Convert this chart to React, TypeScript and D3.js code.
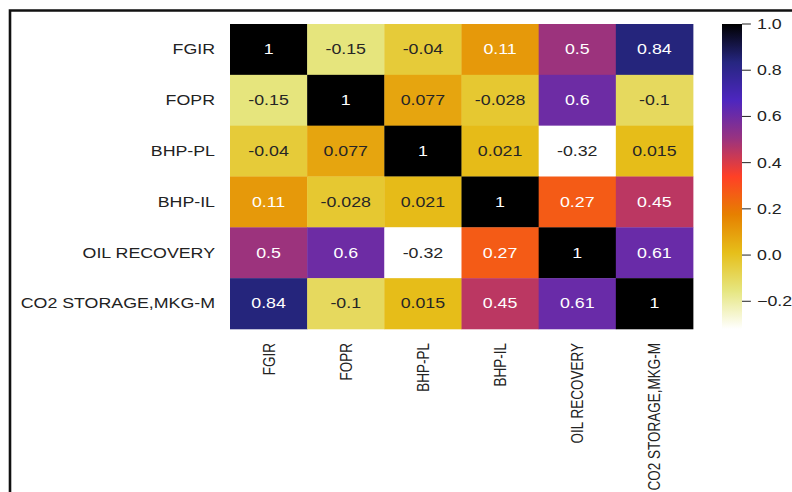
import React from "react";
import * as d3 from "d3";

// variable names, same order on both axes
const labels = ["FGIR", "FOPR", "BHP-PL", "BHP-IL", "OIL RECOVERY", "CO2 STORAGE,MKG-M"];

// correlation matrix rows
const rowFGIR = [1, -0.15, -0.04, 0.11, 0.5, 0.84];
const rowFOPR = [-0.15, 1, 0.077, -0.028, 0.6, -0.1];
const rowBHPPL = [-0.04, 0.077, 1, 0.021, -0.32, 0.015];
const rowBHPIL = [0.11, -0.028, 0.021, 1, 0.27, 0.45];
const rowOil = [0.5, 0.6, -0.32, 0.27, 1, 0.61];
const rowCO2 = [0.84, -0.1, 0.015, 0.45, 0.61, 1];
const matrix = [rowFGIR, rowFOPR, rowBHPPL, rowBHPIL, rowOil, rowCO2];

const colorbarTicks = [-0.2, 0, 0.2, 0.4, 0.6, 0.8, 1.0];

// CMRmap (reversed below)
const cmrStops = [0, 0.125, 0.25, 0.375, 0.5, 0.625, 0.75, 0.875, 1];
const cmrColors = [
  "rgb(0,0,0)",
  "rgb(38,38,128)",
  "rgb(77,38,191)",
  "rgb(153,51,128)",
  "rgb(255,64,38)",
  "rgb(230,128,0)",
  "rgb(230,191,26)",
  "rgb(230,230,128)",
  "rgb(255,255,255)",
];

const W = 792;
const H = 492;
const SX = 1.27; // the picture is stretched sideways
const font = "'Liberation Sans', Arial, Helvetica, sans-serif";

function luminance(c: string) {
  const { r, g, b } = d3.rgb(c);
  const lin = (v: number) => {
    const s = v / 255;
    return s <= 0.03928 ? s / 12.92 : Math.pow((s + 0.055) / 1.055, 2.4);
  };
  return 0.2126 * lin(r) + 0.7152 * lin(g) + 0.0722 * lin(b);
}

export default function App() {
  const vmin = d3.min(matrix.flat()) as number;
  const vmax = d3.max(matrix.flat()) as number;

  const color = d3
    .scaleLinear<string>()
    .domain(cmrStops.map((t) => vmax - t * (vmax - vmin)))
    .range(cmrColors)
    .interpolate(d3.interpolateRgb);

  const top = 24;
  const bottom = 329;
  const x = d3.scaleBand().domain(labels).range([230 / SX, 693 / SX]);
  const y = d3.scaleBand().domain(labels).range([top, bottom]);

  const cbX = 722 / SX;
  const cbW = 20 / SX;
  const cbY = d3.scaleLinear().domain([vmin, vmax]).range([bottom, top]);
  const fmt = d3.format(".1f");

  return (
    <div style={{ position: "fixed", left: 0, top: 0 }}>
      <svg width={W} height={H} style={{ display: "block", background: "#fff" }}>
        <defs>
          <linearGradient id="cb" x1="0" y1="0" x2="0" y2="1">
            {cmrStops.map((t, i) => (
              <stop key={i} offset={t} stopColor={cmrColors[i]} />
            ))}
          </linearGradient>
        </defs>
        <path d={`M10,${H} V10.5 H${W}`} fill="none" stroke="#111" strokeWidth={2.6} />
        <g transform={`scale(${SX},1)`} fontFamily={font}>
          {matrix.map((row, i) =>
            row.map((v, j) => {
              const c = color(v);
              const tc = luminance(c) > 0.408 ? "#262626" : "#ffffff";
              return (
                <g key={`${i}-${j}`}>
                  <rect
                    x={x(labels[j])}
                    y={y(labels[i])}
                    width={x.bandwidth() + 0.3}
                    height={y.bandwidth() + 0.3}
                    fill={c}
                  />
                  <text
                    x={(x(labels[j]) as number) + x.bandwidth() / 2}
                    y={(y(labels[i]) as number) + y.bandwidth() / 2}
                    dy="0.35em"
                    textAnchor="middle"
                    fontSize={14}
                    fill={tc}
                  >
                    {String(v)}
                  </text>
                </g>
              );
            })
          )}
          {labels.map((l) => (
            <text
              key={"y" + l}
              x={215 / SX}
              y={(y(l) as number) + y.bandwidth() / 2}
              dy="0.35em"
              textAnchor="end"
              fontSize={14}
              fill="#222"
            >
              {l}
            </text>
          ))}
          {labels.map((l) => (
            <text
              key={"x" + l}
              transform={`translate(${(x(l) as number) + x.bandwidth() / 2},343) rotate(-90)`}
              dy="0.35em"
              textAnchor="end"
              fontSize={13.5}
              fill="#222"
            >
              {l}
            </text>
          ))}
          <rect x={cbX} y={top} width={cbW} height={bottom - top} fill="url(#cb)" />
          {colorbarTicks.map((t) => (
            <g key={"t" + t} transform={`translate(0,${cbY(t)})`}>
              <line x1={cbX + cbW} x2={cbX + cbW + 7} stroke="#222" strokeWidth={1} />
              <text x={757 / SX} dy="0.35em" fontSize={14} fill="#222">
                {fmt(t)}
              </text>
            </g>
          ))}
        </g>
      </svg>
    </div>
  );
}
